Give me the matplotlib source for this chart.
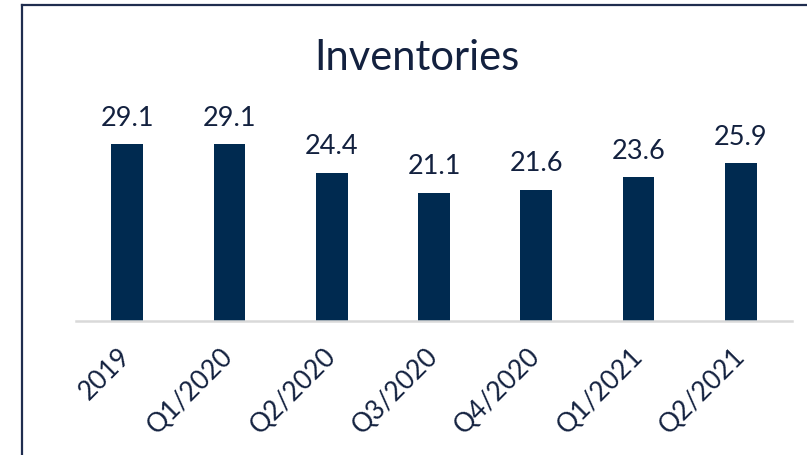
import matplotlib.pyplot as plt
from matplotlib.lines import Line2D

periods = ['2019', 'Q1/2020', 'Q2/2020', 'Q3/2020', 'Q4/2020', 'Q1/2021', 'Q2/2021']
inventories = [29.1, 29.1, 24.4, 21.1, 21.6, 23.6, 25.9]

navy = '#002A50'
text_col = '#13213F'
plt.rcParams['font.family'] = ['Lato', 'DejaVu Sans']

W, H = 807, 456
fig = plt.figure(figsize=(W / 100, H / 100), dpi=100)
ax = fig.add_axes([76 / W, (H - 322) / H, (792 - 76) / W, 222 / H])

x = range(len(periods))
bars = ax.bar(x, inventories, width=0.31, color=navy)
ax.set_xlim(-0.5, len(periods) - 0.5)
ax.set_ylim(0, 36.5)

for b, v in zip(bars, inventories):
    ax.annotate(f'{v:.1f}', (b.get_x() + b.get_width() / 2, v),
                xytext=(0, 14), textcoords='offset points',
                ha='center', va='baseline', fontsize=19.5, color=text_col)

for s in ['top', 'right', 'left']:
    ax.spines[s].set_visible(False)
ax.spines['bottom'].set_color('#D9D9D9')
ax.spines['bottom'].set_linewidth(1.8)
ax.set_yticks([])
ax.set_xticks(list(x))
ax.set_xticklabels(periods, rotation=45, ha='right', va='center',
                   rotation_mode='anchor', fontsize=19, color=text_col)
ax.tick_params(axis='x', length=0, pad=22)

fig.text(417 / W, 1 - 58 / H, 'Inventories', ha='center', va='center',
         fontsize=30, color=text_col)

# frame around the chart (left and top edges)
fig.add_artist(Line2D([22 / W, 22 / W], [0, 1 - 6 / H], color='#1F2D4F', lw=1.6,
                      transform=fig.transFigure))
fig.add_artist(Line2D([22 / W, 1], [1 - 6 / H, 1 - 6 / H], color='#1F2D4F', lw=1.6,
                      transform=fig.transFigure))

fig.savefig('out.png', dpi=100)
